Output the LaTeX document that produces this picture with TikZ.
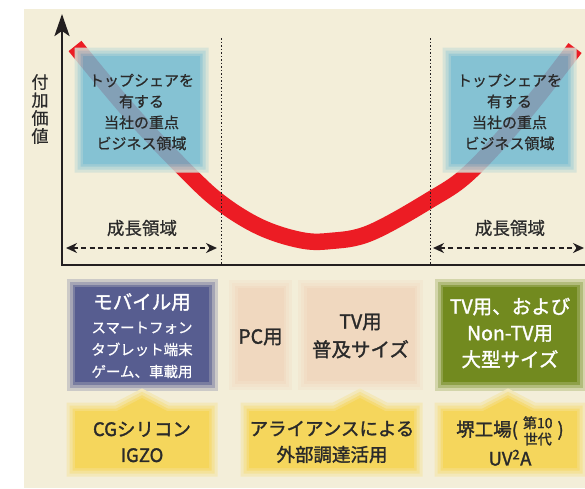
\documentclass[tikz,border=0pt]{standalone}
\usepackage{fontspec}
\setmainfont{Noto Sans CJK JP}[FakeBold=0.7]
\newfontfamily\heavyfont{Noto Sans CJK JP}[FakeBold=1.6]
\usetikzlibrary{arrows.meta}
\definecolor{bgc}{HTML}{F3EED9}
\definecolor{ink}{HTML}{231F20}
\definecolor{txt}{HTML}{2A2A2A}
\definecolor{redc}{HTML}{EC1C24}
\definecolor{bluec}{HTML}{70BAD3}
\definecolor{mobc}{HTML}{575D90}
\definecolor{peach}{HTML}{F0D8BF}
\definecolor{greenc}{HTML}{728A1F}
\definecolor{yelc}{HTML}{F5D65C}
\tikzset{
  glow/.style={preaction={draw=#1!25!bgc,line width=17pt},
               preaction={draw=#1!50!bgc,line width=11pt},
               preaction={draw=#1!78!bgc,line width=5pt},
               fill=#1},
  panel/.style 2 args={rectangle, inner sep=0pt, minimum width=#1, minimum height=#2},
  lbl/.style={inner sep=0pt, align=center, text=txt},
  guide/.style={ink, line width=1pt, dash pattern=on 1.5pt off 2pt},
  spanarrow/.style={ink, line width=2pt, dash pattern=on 5pt off 3.5pt,
     {Stealth[length=11pt,width=10pt]}-{Stealth[length=11pt,width=10pt]}},
}
\begin{document}
\begin{tikzpicture}[x=1pt,y=-1pt]
\useasboundingbox (0,0) rectangle (585,488);
\fill[white] (0,0) rectangle (585,488);
\fill[bgc] (24,9) rectangle (585,488);

% red value curve
\draw[redc, line width=16.5pt] plot[smooth, tension=0.6] coordinates {(75,46) (130,112) (187,172) (221,203) (260,227) (300,240) (330,241) (370,233) (430,200) (470,172) (525,112) (575,48)};

% focus boxes (semi-transparent over the curve)
\begin{scope}[transparency group, opacity=0.84]
\node[panel={117pt}{108pt}, glow=bluec] (blL) at (141.5,110) {};
\node[panel={117pt}{108pt}, glow=bluec] (blR) at (509.5,110) {};
\end{scope}
\node[lbl, font=\fontsize{15}{21}\selectfont] (blLt) at (141.5,112) {トップシェアを\\有する\\当社の重点\\ビジネス領域};
\node[lbl, font=\fontsize{15}{21}\selectfont] (blRt) at (509.5,112) {トップシェアを\\有する\\当社の重点\\ビジネス領域};

% guides
\coordinate (g1t) at (221,38); \coordinate (g1b) at (221,265);
\coordinate (g2t) at (430,38); \coordinate (g2b) at (430,265);
\draw[guide] (g1t) -- (g1b);
\draw[guide] (g2t) -- (g2b);

% axes
\coordinate (O) at (62,265); \coordinate (ytop) at (62,14); \coordinate (xend) at (585,265);
\draw[ink, line width=2.6pt, -{Stealth[length=22pt,width=15pt,inset=5pt]}] (xend) -- (O) -- (ytop);
\node[lbl, font=\fontsize{17}{18}\selectfont] (ylab) at (40,109) {付\\加\\価\\値};

% growth spans
\coordinate (a1) at (66,248); \coordinate (a2) at (217,248);
\coordinate (a3) at (433,248); \coordinate (a4) at (584,248);
\draw[spanarrow] (a1) -- (a2);
\draw[spanarrow] (a3) -- (a4);
\node[lbl, font=\fontsize{17.5}{20}\selectfont] (grL) at (142,228) {成長領域};
\node[lbl, font=\fontsize{17.5}{20}\selectfont] (grR) at (510,228) {成長領域};

% application boxes
\node[panel={134pt}{95pt}, glow=mobc] (mob) at (142,334.5) {};
\node[lbl, text=white, font=\heavyfont\fontsize{19.5}{22}\selectfont] (mobh) at (142,302) {モバイル用};
\node[lbl, text=white, font=\fontsize{14.5}{22}\selectfont] (mobs) at (142,350) {スマートフォン\\タブレット端末\\ゲーム、車載用};

\node[panel={46pt}{93pt}, glow=peach] (pc) at (260.5,334.5) {};
\node[lbl, font=\heavyfont\fontsize{19.5}{22}\selectfont] (pct) at (260.5,337) {PC用};

\node[panel={108pt}{93pt}, glow=peach] (tv) at (360.5,334.5) {};
\node[lbl, font=\heavyfont\fontsize{19.5}{28}\selectfont] (tvt) at (360.5,336) {TV用\\普及サイズ};

\node[panel={134pt}{95pt}, glow=greenc] (gr) at (510,334.5) {};
\node[lbl, text=white, font=\heavyfont\fontsize{19.5}{26.5}\selectfont] (grt) at (510,333) {TV用、および\\Non-TV用\\大型サイズ};

% technology boxes
\path[glow=yelc] (75,411) -- (117,411) -- (142,398) -- (167,411) -- (209,411) -- (209,468) -- (75,468) -- cycle;
\path[glow=yelc] (249,411) -- (335,411) -- (360,398) -- (385,411) -- (414,411) -- (414,468) -- (249,468) -- cycle;
\path[glow=yelc] (443,411) -- (483,411) -- (508,398) -- (533,411) -- (577,411) -- (577,468) -- (443,468) -- cycle;
\node[lbl, font=\heavyfont\fontsize{18.5}{26}\selectfont] (y1t) at (142,442) {CGシリコン\\IGZO};
\node[lbl, font=\heavyfont\fontsize{18.5}{26}\selectfont] (y2t) at (332,442) {アライアンスによる\\外部調達活用};
\node[lbl, font=\heavyfont\fontsize{18.5}{26}\selectfont] (y3t) at (510,441) {堺工場(\hspace{5pt}{\fontsize{14}{15}\selectfont\renewcommand{\arraystretch}{1}\begin{tabular}{@{}c@{}}第10\\世代\end{tabular}}\hspace{5pt})\\UV\textsuperscript{2}A};
\end{tikzpicture}
\end{document}
